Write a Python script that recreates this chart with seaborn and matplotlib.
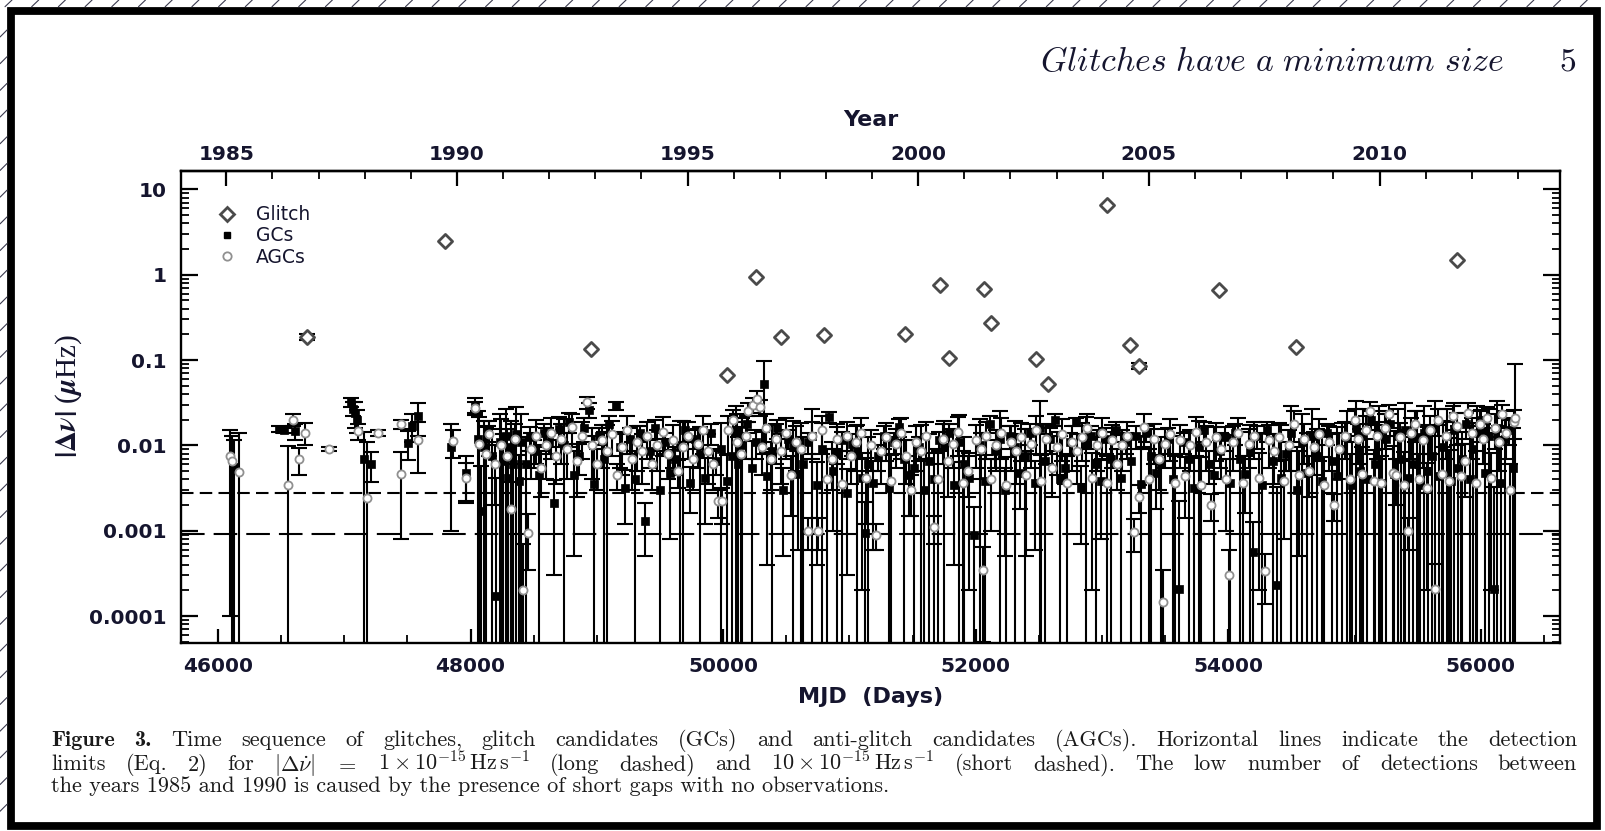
import numpy as np
import pandas as pd
import matplotlib
matplotlib.use("Agg")
import matplotlib.pyplot as plt
import seaborn as sns
from matplotlib.lines import Line2D
from matplotlib.patches import Rectangle
from matplotlib.ticker import (FixedLocator, FixedFormatter, MultipleLocator,
                               LogLocator, NullFormatter, FormatStrFormatter)

W, H = 1606, 831

# ---------------------------------------------------------------- data
glitch_mjd = [46704, 47795, 48955, 50032, 50261, 50458, 50798, 51439, 51715, 51787,
              52063, 52119, 52474, 52569, 53036, 53225, 53296, 53929, 54537, 55810]
glitch_val = [0.188, 2.45, 0.135, 0.066, 0.95, 0.185, 0.195, 0.20, 0.76, 0.107,
              0.68, 0.27, 0.102, 0.052, 6.6, 0.148, 0.085, 0.66, 0.142, 1.47]
glitch_err = [0.015, 0, 0, 0, 0, 0, 0, 0, 0, 0,
              0, 0, 0, 0, 0, 0, 0.007, 0, 0, 0]

gc_mjd = [46125, 46480, 46520, 46610, 47050, 47070, 47083, 47100, 47160, 47215,
          47505, 47540, 47584, 47847, 47966, 48032, 48060, 48085, 48110, 48140,
          48170, 48203, 48230, 48260, 48280, 48300, 48320, 48340, 48360, 48380,
          48400, 48440, 48470, 48500, 48540, 48580, 48620, 48664, 48700, 48740,
          48780, 48820, 48860, 48900, 48940, 48980, 49020, 49060, 49100, 49150,
          49180, 49220, 49260, 49300, 49340, 49380, 49420, 49460, 49500, 49540,
          49580, 49620, 49660, 49700, 49740, 49780, 49820, 49860, 49900, 49940,
          49980, 50030, 50070, 50100, 50120, 50150, 50190, 50230, 50260, 50324,
          50350, 50390, 50430, 50470, 50510, 50550, 50590, 50630, 50670, 50700,
          50740, 50780, 50842, 50870, 50900, 50940, 50980, 51020, 51060, 51100,
          51122, 51150, 51190, 51230, 51270, 51310, 51350, 51390, 51430, 51470,
          51510, 51550, 51590, 51630, 51670, 51710, 51750, 51790, 51830, 51870,
          51910, 51950, 51990, 52030, 52070, 52110, 52150, 52190, 52230, 52270,
          52310, 52350, 52390, 52430, 52470, 52510, 52550, 52590, 52630, 52670,
          52710, 52750, 52790, 52830, 52870, 52910, 52950, 52990, 53030, 53070,
          53110, 53150, 53190, 53230, 53270, 53310, 53350, 53390, 53430, 53470,
          53520, 53560, 53612, 53650, 53690, 53730, 53770, 53810, 53850, 53890,
          53930, 53970, 54010, 54050, 54090, 54130, 54170, 54194, 54230, 54270,
          54310, 54350, 54387, 54420, 54460, 54500, 54540, 54580, 54620, 54660,
          54700, 54740, 54780, 54820, 54860, 54900, 54940, 54980, 55010, 55040,
          55070, 55100, 55130, 55160, 55190, 55220, 55250, 55280, 55310, 55340,
          55370, 55400, 55430, 55460, 55490, 55520, 55550, 55580, 55610, 55640,
          55670, 55700, 55730, 55760, 55790, 55820, 55850, 55880, 55910, 55940,
          55970, 56000, 56030, 56060, 56103, 56130, 56160, 56190, 56220, 56250]
gc_val = [0.0056, 0.0155, 0.0150, 0.0147, 0.032, 0.027, 0.024, 0.020, 0.0070, 0.0060,
          0.0107, 0.017, 0.022, 0.0095, 0.0048, 0.030, 0.012, 0.0017, 0.0095, 0.014,
          0.0075, 0.00017, 0.011, 0.0065, 0.013, 0.0042, 0.0095, 0.006, 0.0135, 0.0038,
          0.0110, 0.0060, 0.0125, 0.0085, 0.0045, 0.0140, 0.0110, 0.0021, 0.0155, 0.0100,
          0.0190, 0.0045, 0.0075, 0.0160, 0.0260, 0.0035, 0.0130, 0.0070, 0.0180, 0.0290,
          0.0095, 0.0032, 0.0120, 0.0040, 0.0140, 0.0013, 0.0085, 0.0160, 0.0030, 0.0110,
          0.0048, 0.0070, 0.0095, 0.0150, 0.0036, 0.0120, 0.0080, 0.0042, 0.0140, 0.0065,
          0.0090, 0.0038, 0.0075, 0.0140, 0.0060, 0.0100, 0.0180, 0.0055, 0.0110, 0.053,
          0.0044, 0.0085, 0.0160, 0.0030, 0.0120, 0.0095, 0.0046, 0.0060, 0.0110, 0.0130,
          0.0034, 0.0090, 0.0213, 0.0050, 0.0080, 0.0115, 0.0028, 0.0105, 0.0085, 0.0042,
          0.00095, 0.0060, 0.0036, 0.0075, 0.0130, 0.0032, 0.0110, 0.0165, 0.0070, 0.0045,
          0.0055, 0.0095, 0.0030, 0.0065, 0.0040, 0.0115, 0.0095, 0.0140, 0.0034, 0.0110,
          0.0060, 0.0042, 0.0009, 0.0100, 0.0038, 0.0180, 0.0085, 0.0120, 0.0030, 0.0130,
          0.0095, 0.0048, 0.0075, 0.0140, 0.0036, 0.0160, 0.0065, 0.0120, 0.0200, 0.0040,
          0.0055, 0.0110, 0.0190, 0.0032, 0.0105, 0.0130, 0.0060, 0.0038, 0.0120, 0.0070,
          0.0150, 0.0042, 0.0110, 0.0065, 0.0130, 0.0035, 0.0140, 0.0075, 0.0048, 0.0060,
          0.0120, 0.0040, 0.00021, 0.0110, 0.0070, 0.0032, 0.0095, 0.0150, 0.0060, 0.0045,
          0.0085, 0.0125, 0.0036, 0.0140, 0.0070, 0.0046, 0.0085, 0.00056, 0.0130, 0.0034,
          0.0150, 0.0065, 0.00023, 0.0042, 0.0080, 0.0140, 0.0030, 0.0110, 0.0048, 0.0130,
          0.0075, 0.0038, 0.0140, 0.0065, 0.0044, 0.0090, 0.0125, 0.0034, 0.0160, 0.0050,
          0.0130, 0.0040, 0.0200, 0.0060, 0.0140, 0.0036, 0.0120, 0.0180, 0.0046, 0.0130,
          0.0070, 0.0150, 0.0042, 0.0060, 0.0125, 0.0034, 0.0140, 0.0050, 0.0075, 0.0160,
          0.0044, 0.0095, 0.0130, 0.0038, 0.0150, 0.0055, 0.0070, 0.0180, 0.0040, 0.0090,
          0.0140, 0.0200, 0.0048, 0.0130, 0.00021, 0.0160, 0.0036, 0.0120, 0.0150, 0.0055]
gc_err = [0.0060, 0.0012, 0.0010, 0.0030, 0.004, 0.005, 0.008, 0.006, 0.0072, 0.0023,
          0.004, 0.006, 0.009, 0.0085, 0.0027, 0.006, 0.013, 0.004, 0.010, 0.003,
          0.008, 0.004, 0.012, 0.007, 0.014, 0.005, 0.010, 0.0065, 0.015, 0.004,
          0.012, 0.0065, 0.004, 0.003, 0.005, 0.004, 0.003, 0.0018, 0.006, 0.0105,
          0.005, 0.004, 0.003, 0.005, 0.005, 0.0095, 0.003, 0.0075, 0.004, 0.003,
          0.004, 0.0020, 0.004, 0.0045, 0.003, 0.0008, 0.003, 0.004, 0.0055, 0.003,
          0.004, 0.0025, 0.0100, 0.004, 0.002, 0.003, 0.0085, 0.003, 0.004, 0.002,
          0.0095, 0.004, 0.008, 0.015, 0.0065, 0.011, 0.004, 0.0058, 0.004, 0.045,
          0.004, 0.009, 0.004, 0.0025, 0.003, 0.010, 0.004, 0.0065, 0.003, 0.014,
          0.003, 0.0095, 0.003, 0.004, 0.0085, 0.003, 0.0025, 0.003, 0.009, 0.004,
          0.0012, 0.0065, 0.003, 0.0025, 0.004, 0.009, 0.003, 0.004, 0.0075, 0.003,
          0.006, 0.003, 0.004, 0.0070, 0.0042, 0.003, 0.010, 0.004, 0.003, 0.0115,
          0.0065, 0.004, 0.0010, 0.0105, 0.004, 0.004, 0.003, 0.013, 0.0025, 0.004,
          0.010, 0.003, 0.008, 0.004, 0.003, 0.017, 0.007, 0.004, 0.003, 0.009,
          0.002, 0.003, 0.002, 0.0025, 0.011, 0.004, 0.0065, 0.003, 0.004, 0.0075,
          0.004, 0.009, 0.003, 0.007, 0.004, 0.0095, 0.003, 0.008, 0.003, 0.0065,
          0.004, 0.009, 0.0020, 0.003, 0.0075, 0.004, 0.010, 0.004, 0.0025, 0.012,
          0.003, 0.004, 0.0095, 0.004, 0.0075, 0.003, 0.009, 0.0007, 0.004, 0.0105,
          0.004, 0.007, 0.003, 0.013, 0.003, 0.015, 0.0065, 0.012, 0.009, 0.014,
          0.008, 0.011, 0.004, 0.007, 0.012, 0.0095, 0.013, 0.0075, 0.017, 0.0105,
          0.014, 0.008, 0.005, 0.0115, 0.015, 0.009, 0.013, 0.005, 0.010, 0.014,
          0.0075, 0.016, 0.011, 0.0065, 0.013, 0.0095, 0.015, 0.0115, 0.008, 0.017,
          0.013, 0.010, 0.014, 0.0085, 0.016, 0.0115, 0.0075, 0.006, 0.013, 0.0095,
          0.015, 0.006, 0.011, 0.014, 0.003, 0.017, 0.009, 0.013, 0.005, 0.0105]

agc_mjd = [46095, 46113, 46166, 46556, 46595, 46640, 46688, 46877, 47107, 47178,
           47267, 47452, 47447, 47581, 47860, 47966, 48032, 48070, 48120, 48150,
           48190, 48240, 48290, 48322, 48350, 48413, 48453, 48480, 48520, 48560,
           48600, 48640, 48680, 48720, 48760, 48800, 48840, 48880, 48920, 48960,
           49000, 49040, 49080, 49120, 49160, 49200, 49240, 49280, 49320, 49360,
           49400, 49440, 49480, 49520, 49560, 49600, 49640, 49680, 49720, 49760,
           49800, 49840, 49880, 49920, 49960, 49990, 50040, 50080, 50110, 50140,
           50180, 50200, 50240, 50270, 50290, 50310, 50340, 50380, 50420, 50460,
           50500, 50540, 50580, 50620, 50672, 50700, 50751, 50780, 50820, 50860,
           50900, 50940, 50980, 51010, 51050, 51090, 51130, 51170, 51210, 51250,
           51290, 51330, 51370, 51410, 51450, 51490, 51530, 51570, 51610, 51668,
           51700, 51740, 51780, 51820, 51860, 51900, 51940, 52000, 52040, 52055,
           52080, 52120, 52160, 52200, 52240, 52280, 52320, 52360, 52400, 52440,
           52480, 52520, 52560, 52600, 52640, 52680, 52720, 52760, 52800, 52840,
           52880, 52920, 52960, 53000, 53040, 53080, 53120, 53160, 53200, 53254,
           53290, 53330, 53370, 53410, 53450, 53479, 53500, 53540, 53580, 53620,
           53660, 53700, 53740, 53780, 53820, 53860, 53900, 53940, 53980, 54008,
           54040, 54080, 54120, 54160, 54200, 54240, 54293, 54320, 54360, 54400,
           54440, 54480, 54518, 54560, 54600, 54640, 54680, 54720, 54760, 54800,
           54840, 54880, 54920, 54960, 55000, 55030, 55060, 55090, 55120, 55150,
           55180, 55210, 55240, 55270, 55300, 55330, 55360, 55390, 55423, 55450,
           55480, 55510, 55540, 55570, 55600, 55636, 55660, 55690, 55720, 55750,
           55780, 55810, 55840, 55870, 55900, 55930, 55960, 55990, 56020, 56050,
           56080, 56110, 56140, 56170, 56200, 56230, 56260, 56270]
agc_val = [0.0076, 0.0065, 0.0049, 0.0034, 0.0200, 0.0069, 0.0141, 0.0090, 0.0147, 0.0024,
           0.0140, 0.0176, 0.0046, 0.0117, 0.0112, 0.0042, 0.0276, 0.0105, 0.0080, 0.0135,
           0.0060, 0.0100, 0.0075, 0.0018, 0.0120, 0.00020, 0.00095, 0.0090, 0.0130, 0.0055,
           0.0100, 0.0140, 0.0075, 0.0120, 0.0090, 0.0165, 0.0065, 0.0130, 0.0320, 0.0100,
           0.0060, 0.0115, 0.0085, 0.0135, 0.0045, 0.0095, 0.0150, 0.0070, 0.0110, 0.0085,
           0.0130, 0.0060, 0.0100, 0.0145, 0.0080, 0.0115, 0.0050, 0.0095, 0.0130, 0.0070,
           0.0105, 0.0150, 0.0085, 0.0060, 0.0022, 0.0022, 0.0150, 0.0200, 0.0110, 0.0080,
           0.0130, 0.0250, 0.0300, 0.0350, 0.0280, 0.0095, 0.0160, 0.0070, 0.0120, 0.0085,
           0.0140, 0.0045, 0.0110, 0.0090, 0.0010, 0.0130, 0.0010, 0.0150, 0.0040, 0.0070,
           0.0120, 0.0035, 0.0130, 0.0075, 0.0110, 0.0140, 0.0042, 0.0100, 0.0009, 0.0085,
           0.0125, 0.0038, 0.0105, 0.0140, 0.0075, 0.0030, 0.0110, 0.0085, 0.0130, 0.0011,
           0.0040, 0.0120, 0.0065, 0.0105, 0.0145, 0.0036, 0.0050, 0.0115, 0.0090, 0.00035,
           0.0130, 0.0040, 0.0100, 0.0140, 0.0034, 0.0110, 0.0085, 0.0125, 0.0045, 0.0105,
           0.0150, 0.0038, 0.0120, 0.0055, 0.0095, 0.0135, 0.0036, 0.0110, 0.0085, 0.0125,
           0.0160, 0.0042, 0.0100, 0.0140, 0.0036, 0.0115, 0.0060, 0.0100, 0.0130, 0.00097,
           0.0025, 0.0165, 0.0040, 0.0120, 0.0070, 0.000145, 0.0105, 0.0135, 0.0036, 0.0115,
           0.0044, 0.0100, 0.0145, 0.0034, 0.0110, 0.0020, 0.0125, 0.0090, 0.0040, 0.00030,
           0.0110, 0.0140, 0.0036, 0.0105, 0.0130, 0.0042, 0.00034, 0.0115, 0.0085, 0.0125,
           0.0038, 0.0100, 0.0180, 0.0045, 0.0120, 0.0050, 0.0095, 0.0135, 0.0034, 0.0110,
           0.0020, 0.0090, 0.0130, 0.0040, 0.0200, 0.0120, 0.0046, 0.0150, 0.0250, 0.0038,
           0.0130, 0.0036, 0.0160, 0.0230, 0.0048, 0.0045, 0.0125, 0.0034, 0.0010, 0.0140,
           0.0180, 0.0040, 0.0115, 0.0032, 0.0150, 0.00021, 0.0200, 0.0046, 0.0130, 0.0038,
           0.0220, 0.0170, 0.0044, 0.0065, 0.0240, 0.0140, 0.0036, 0.0180, 0.0120, 0.0210,
           0.0042, 0.0160, 0.0110, 0.0230, 0.0140, 0.0030, 0.0190, 0.0210]
agc_err = [0.0075, 0.0065, 0.0089, 0.0064, 0.003, 0.0024, 0.004, 0.0005, 0.003, 0.0084,
           0.001, 0.002, 0.0038, 0.007, 0.004, 0.002, 0.005, 0.011, 0.0085, 0.006,
           0.004, 0.0105, 0.008, 0.0019, 0.006, 0.0005, 0.0006, 0.005, 0.007, 0.003,
           0.006, 0.007, 0.004, 0.006, 0.005, 0.007, 0.004, 0.006, 0.005, 0.006,
           0.003, 0.006, 0.009, 0.006, 0.0015, 0.005, 0.007, 0.004, 0.006, 0.005,
           0.006, 0.003, 0.005, 0.007, 0.004, 0.006, 0.0018, 0.010, 0.006, 0.004,
           0.005, 0.007, 0.005, 0.003, 0.0008, 0.0010, 0.007, 0.006, 0.012, 0.0085,
           0.006, 0.006, 0.006, 0.008, 0.006, 0.005, 0.007, 0.004, 0.006, 0.005,
           0.007, 0.003, 0.006, 0.0095, 0.0004, 0.006, 0.0004, 0.007, 0.005, 0.004,
           0.006, 0.005, 0.006, 0.004, 0.006, 0.007, 0.003, 0.005, 0.0003, 0.005,
           0.006, 0.004, 0.005, 0.007, 0.004, 0.0015, 0.006, 0.009, 0.006, 0.0004,
           0.005, 0.006, 0.004, 0.005, 0.007, 0.005, 0.0025, 0.006, 0.005, 0.0003,
           0.006, 0.003, 0.005, 0.007, 0.004, 0.006, 0.005, 0.006, 0.004, 0.005,
           0.007, 0.004, 0.006, 0.003, 0.005, 0.007, 0.004, 0.006, 0.005, 0.006,
           0.007, 0.004, 0.005, 0.007, 0.004, 0.006, 0.003, 0.005, 0.006, 0.0004,
           0.0009, 0.007, 0.005, 0.006, 0.004, 0.0002, 0.005, 0.007, 0.004, 0.006,
           0.003, 0.005, 0.007, 0.004, 0.006, 0.0007, 0.006, 0.005, 0.003, 0.0003,
           0.006, 0.007, 0.004, 0.005, 0.006, 0.004, 0.0002, 0.006, 0.005, 0.006,
           0.003, 0.005, 0.007, 0.004, 0.006, 0.0025, 0.005, 0.007, 0.004, 0.006,
           0.0007, 0.005, 0.006, 0.004, 0.007, 0.006, 0.005, 0.007, 0.007, 0.005,
           0.006, 0.004, 0.007, 0.007, 0.005, 0.0025, 0.006, 0.005, 0.0004, 0.007,
           0.007, 0.004, 0.006, 0.003, 0.007, 0.0002, 0.007, 0.005, 0.006, 0.005,
           0.007, 0.007, 0.006, 0.004, 0.007, 0.007, 0.005, 0.007, 0.006, 0.007,
           0.004, 0.007, 0.006, 0.007, 0.007, 0.003, 0.007, 0.068]

limit_long = 0.00092     # |dnu_dot| = 1e-15 Hz/s
limit_short = 0.0028     # |dnu_dot| = 10e-15 Hz/s

mjd_ticks = [46000, 48000, 50000, 52000, 54000, 56000]
year_ticks = [1985, 1990, 1995, 2000, 2005, 2010]
y_ticks = [1e-4, 1e-3, 1e-2, 1e-1, 1, 10]
y_ticklabels = ["0.0001", "0.001", "0.01", "0.1", "1", "10"]
legend_labels = ["Glitch", "GCs", "AGCs"]

caption1 = "Time sequence of glitches, glitch candidates (GCs) and anti-glitch candidates (AGCs). Horizontal lines indicate the detection"
caption2 = ["limits", "(Eq.", "2)", "for", r"$|\Delta\dot{\nu}|$", r"$=$",
            r"$1\times10^{-15}\,$Hz$\,$s$^{-1}$", "(long", "dashed)", "and",
            r"$10\times10^{-15}\,$Hz$\,$s$^{-1}$", "(short", "dashed).", "The",
            "low", "number", "of", "detections", "between"]
caption3 = "the years 1985 and 1990 is caused by the presence of short gaps with no observations."

# ---------------------------------------------------------------- helpers
def mjd_to_year(m):
    return 2000.0 + (np.asarray(m, dtype=float) - 51544.5) / 365.25


def year_to_mjd(y):
    return 51544.5 + (np.asarray(y, dtype=float) - 2000.0) * 365.25


def err_bounds(val, err):
    val = np.asarray(val, dtype=float)
    err = np.asarray(err, dtype=float)
    lower = np.where(val - err > 0, err, val - 1e-8)
    return np.vstack([lower, err])


def frame(n, *cols):
    return [c[:n] for c in cols]

# ---------------------------------------------------------------- style
sns.set_theme(style="white")
plt.rcParams.update({
    "font.family": ["DejaVu Sans"],
    "font.weight": "bold",
    "axes.labelweight": "bold",
    "axes.linewidth": 1.7,
    "axes.edgecolor": "black",
    "figure.facecolor": "white",
    "axes.facecolor": "white",
    "lines.scale_dashes": False,
    "xtick.color": "black",
    "ytick.color": "black",
    "xtick.labelcolor": "#15152e",
    "ytick.labelcolor": "#15152e",
})

TXT = "#15152e"
fig = plt.figure(figsize=(W / 100, H / 100), dpi=100)
ax = fig.add_axes([180.7 / W, 1 - 643 / H, (1560 - 180.7) / W, (643 - 171) / H])

n = min(len(gc_mjd), len(gc_val), len(gc_err))
gmj, gv, ge = frame(n, gc_mjd, gc_val, gc_err)
gc_df = pd.DataFrame({"mjd": gmj, "val": gv, "err": ge})
n = min(len(agc_mjd), len(agc_val), len(agc_err))
amj, av, ae = frame(n, agc_mjd, agc_val, agc_err)
agc_df = pd.DataFrame({"mjd": amj, "val": av, "err": ae})
gl_df = pd.DataFrame({"mjd": glitch_mjd, "val": glitch_val, "err": glitch_err})

ax.set_yscale("log")

ebkw = dict(fmt="none", ecolor="black", elinewidth=1.5, capsize=6, capthick=1.5)
ax.errorbar(gc_df["mjd"], gc_df["val"], yerr=err_bounds(gc_df["val"], gc_df["err"]),
            zorder=2, **ebkw)
ax.errorbar(agc_df["mjd"], agc_df["val"], yerr=err_bounds(agc_df["val"], agc_df["err"]),
            zorder=2, **ebkw)
gle = gl_df[gl_df["err"] > 0]
ax.errorbar(gle["mjd"], gle["val"], yerr=err_bounds(gle["val"], gle["err"]),
            zorder=4, **ebkw)

sns.scatterplot(data=gc_df, x="mjd", y="val", marker="s", color="black",
                edgecolor="black", s=28, linewidth=0.5, ax=ax, zorder=3, legend=False)
sns.scatterplot(data=agc_df, x="mjd", y="val", marker="o", color="white",
                edgecolor="#909090", s=34, linewidth=1.3, ax=ax, zorder=3.5, legend=False)
sns.scatterplot(data=gl_df, x="mjd", y="val", marker="D", color="white",
                edgecolor="#4a4a4a", s=52, linewidth=2.0, ax=ax, zorder=5, legend=False)

ax.axhline(limit_short, color="black", lw=1.5, dashes=(9, 4.5), zorder=1)
ax.axhline(limit_long, color="black", lw=1.5, dashes=(17, 6.5), zorder=1)

ax.set_xlim(45705, 56626)
ax.set_ylim(4.83e-5, 16.4)

ax.xaxis.set_major_locator(FixedLocator(mjd_ticks))
ax.xaxis.set_major_formatter(FormatStrFormatter("%d"))
ax.xaxis.set_minor_locator(MultipleLocator(500))
ax.yaxis.set_major_locator(FixedLocator(y_ticks))
ax.yaxis.set_major_formatter(FixedFormatter(y_ticklabels))
ax.yaxis.set_minor_locator(LogLocator(base=10, subs=np.arange(2, 10)))
ax.yaxis.set_minor_formatter(NullFormatter())

ax.tick_params(axis="y", which="major", direction="in", length=12, width=1.6,
               left=True, right=True, pad=10, labelsize=14.5)
ax.tick_params(axis="y", which="minor", direction="in", length=6, width=1.3,
               left=True, right=True)
ax.tick_params(axis="x", which="major", direction="in", length=10, width=1.6,
               bottom=True, top=False, pad=10, labelsize=14.5)
ax.tick_params(axis="x", which="minor", direction="in", length=6, width=1.3,
               bottom=True, top=False)
for sp in ax.spines.values():
    sp.set_linewidth(1.7)

secax = ax.secondary_xaxis("top", functions=(mjd_to_year, year_to_mjd))
secax.xaxis.set_major_locator(FixedLocator(year_ticks))
secax.xaxis.set_major_formatter(FormatStrFormatter("%d"))
secax.xaxis.set_minor_locator(MultipleLocator(1))
secax.tick_params(which="major", direction="in", length=11, width=1.6, pad=5,
                  labelsize=14.5)
secax.tick_params(which="minor", direction="in", length=6, width=1.3)
secax.spines["top"].set_linewidth(1.7)
secax.set_xlabel("Year", fontsize=16, fontweight="bold", color=TXT, va="center")
secax.xaxis.set_label_coords(0.5, (643 - 121) / 471, transform=ax.transAxes)

ax.set_xlabel("MJD  (Days)", fontsize=16, fontweight="bold", color=TXT, va="center")
ax.xaxis.set_label_coords(0.5, (643 - 697) / 471)
ax.set_ylabel(r"$|\Delta\nu|$ ($\mu$Hz)", fontsize=21, fontweight="normal",
              family="Liberation Serif", math_fontfamily="stix", color=TXT)
ax.yaxis.set_label_coords((84 - 180.7) / 1379.3, (643 - 396) / 471)

handles = [
    Line2D([], [], ls="none", marker="D", mfc="white", mec="#4a4a4a", mew=2.0, ms=7.5),
    Line2D([], [], ls="none", marker="s", mfc="black", mec="black", ms=5.0),
    Line2D([], [], ls="none", marker="o", mfc="white", mec="#909090", mew=1.3, ms=6.0),
]
leg = ax.legend(handles, legend_labels, loc="upper left",
                bbox_to_anchor=((215 - 180.7) / 1379.3, (643 - 206) / 471),
                frameon=False, borderpad=0, borderaxespad=0, handlelength=1.3,
                handletextpad=0.9, labelspacing=0.12,
                prop={"family": "DejaVu Sans", "weight": "normal", "size": 13.5})
for t in leg.get_texts():
    t.set_color(TXT)

# ---------------------------------------------------------------- page decoration
renderer = fig.canvas.get_renderer()


def fit_width(t, target):
    w = t.get_window_extent(renderer).width
    t.set_fontsize(t.get_fontsize() * target / w)


hdr = fig.text(1040 / W, 1 - 62 / H, r"$\mathit{Glitches\ have\ a\ minimum\ size}$",
               math_fontfamily="cm", fontsize=18, fontweight="normal",
               ha="left", va="center", color=TXT)
fit_width(hdr, 1505 - 1040)
fig.text(1568 / W, 1 - 62 / H, "5", family=["cmr10", "DejaVu Serif"], fontweight="normal",
         fontsize=hdr.get_fontsize(), ha="center", va="center", color=TXT)

CAP = "#1a1a1a"
x0, x1 = 51, 1577
t3 = fig.text(x0 / W, 1 - 792 / H, caption3, family=["cmr10", "DejaVu Serif"],
              fontweight="normal", fontsize=14, ha="left", va="baseline",
              math_fontfamily="cm", color=CAP)
fit_width(t3, 1013 - x0)
t3.set_fontsize(t3.get_fontsize() * 0.87)
fs = t3.get_fontsize()


def place_words(words, y_base, size):
    texts = [fig.text(0, 1 - y_base / H, w, family=[fam, "DejaVu Serif"],
                      fontweight="normal", fontsize=size, ha="left", va="baseline",
                      math_fontfamily="cm", color=CAP) for w, fam in words]
    widths = [t.get_window_extent(renderer).width for t in texts]
    gap = (x1 - x0 - sum(widths)) / (len(texts) - 1)
    x = x0
    for t, w in zip(texts, widths):
        t.set_x(x / W)
        x += w + gap


line1 = [("Figure", "cmb10"), ("3.", "cmb10")] + [(w, "cmr10") for w in caption1.split()]
line2 = [(w, "cmr10") for w in caption2]
place_words(line1, 746, fs)
place_words(line2, 770.5, fs)

# hatched page margin and black frame
hc = "#3a3a4e"
for hx in np.arange(5.0, W, 26.7):
    fig.add_artist(Line2D([hx / W, (hx + 7) / W], [1 - 6.7 / H, 1.0],
                          transform=fig.transFigure, color=hc, lw=0.8))
for hy in np.arange(30.0, H, 26.7):
    fig.add_artist(Line2D([0, 7 / W], [1 - (hy + 7) / H, 1 - hy / H],
                          transform=fig.transFigure, color=hc, lw=0.8))
fig.add_artist(Rectangle((10.8 / W, 1 - 826 / H), (1597.5 - 10.8) / W, (826 - 10.5) / H,
                         transform=fig.transFigure, fill=False, ec="black", lw=5.6))

fig.savefig("out.png", dpi=100)
